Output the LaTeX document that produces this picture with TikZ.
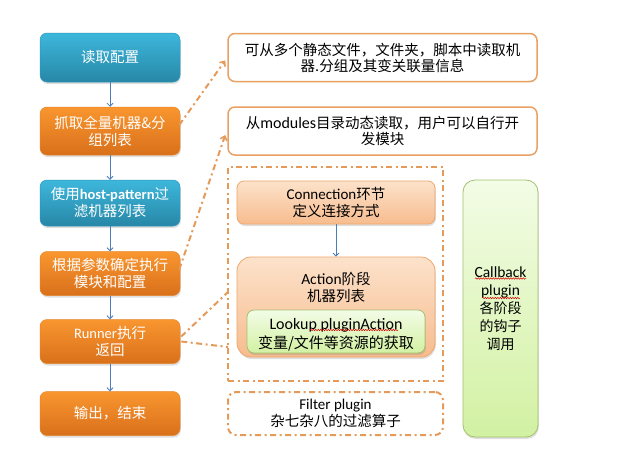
\documentclass[tikz,border=0pt]{standalone}
\usepackage{fontspec}
\setmainfont{Noto Sans CJK SC}
\newfontfamily\lat{Carlito}
\usetikzlibrary{arrows.meta,shadows,decorations.pathmorphing,calc}
\definecolor{bluetop}{HTML}{3DB7DC}
\definecolor{bluebot}{HTML}{2787A7}
\definecolor{blueedge}{HTML}{2E9ABB}
\definecolor{orgtop}{HTML}{F9962F}
\definecolor{orgbot}{HTML}{D9701B}
\definecolor{orgedge}{HTML}{E5862A}
\definecolor{noteedge}{HTML}{E9A064}
\definecolor{dashc}{HTML}{E69A5A}
\definecolor{peachtop}{HTML}{FCE2CB}
\definecolor{peachbot}{HTML}{F7BC8E}
\definecolor{peachedge}{HTML}{EFA76A}
\definecolor{greentop}{HTML}{F3FCE6}
\definecolor{greenbot}{HTML}{D2F1A2}
\definecolor{greenedge}{HTML}{A3C06E}
\definecolor{arrowblue}{HTML}{4A7EBB}
\begin{document}
\begin{tikzpicture}[x=1pt,y=-1pt,
  base/.style={rounded corners=7pt, align=center, inner sep=2pt,
    font=\fontsize{14.5}{17}\selectfont},
  shad/.style={drop shadow={opacity=0.25, shadow xshift=0.8pt, shadow yshift=-2pt}},
  bluebox/.style={base, shad, minimum width=140pt, top color=bluetop, bottom color=bluebot,
    draw=blueedge, line width=0.5pt, text=white},
  orgbox/.style={base, shad, minimum width=140pt, top color=orgtop, bottom color=orgbot,
    draw=orgedge, line width=0.5pt, text=white},
  notebox/.style={base, draw=noteedge, line width=1.5pt, fill=white,
    minimum width=309pt, minimum height=48pt, font=\fontsize{14.5}{16}\selectfont},
  dashdot/.style={draw=dashc, line width=2pt, dash pattern=on 6pt off 3.5pt on 2pt off 3.5pt},
  peachbox/.style={base, shad, top color=peachtop, bottom color=peachbot, draw=peachedge,
    line width=0.8pt, minimum width=198pt},
  greenbox/.style={base, shad, top color=greentop, bottom color=greenbot, draw=greenedge,
    line width=0.8pt},
  barrow/.style={draw=arrowblue, line width=0.8pt, -{Straight Barb[length=3pt,width=6pt]}},
  conn/.style={dashdot, line width=2pt},
  connarrow/.style={conn, -{Straight Barb[length=4pt,width=7pt,line width=1.5pt]}},
  squig/.style={draw=red!85!black, line width=0.5pt, decorate,
    decoration={snake, amplitude=0.7pt, segment length=2.5pt}}
]
\useasboundingbox[fill=white] (0,0) rectangle (629,471);

% left column
\node[bluebox, minimum height=49pt] (b1) at (110,57.5) {读取配置};
\node[orgbox, minimum height=48pt] (b2) at (110,131) {抓取全量机器\&分\\组列表};
\node[bluebox, minimum height=46pt] (b3) at (110,203) {使用{\lat\bfseries host-pattern}过\\滤机器列表};
\node[orgbox, minimum height=44pt] (b4) at (110,273.5) {根据参数确定执行\\模块和配置};
\node[orgbox, minimum height=44pt] (b5) at (110,341.5) {{\lat Runner}执行\\返回};
\node[orgbox, minimum height=44pt] (b6) at (110,413.5) {输出，结束};

\draw[barrow] (b1) -- (b2);
\draw[barrow] (b2) -- (b3);
\draw[barrow] (b3) -- (b4);
\draw[barrow] (b4) -- (b5);
\draw[barrow] (b5) -- (b6);

% notes
\node[notebox] (na) at (382.5,57.5) {可从多个静态文件，文件夹，脚本中读取机\\器.分组及其变关联量信息};
\node[notebox] (nb) at (382.5,131) {从{\lat\fontsize{16}{16}\selectfont modules}目录动态读取，用户可以自行开\\发模块};

% group
\node[dashdot, minimum width=215pt, minimum height=214pt, inner sep=0pt] (grp) at (335.5,274) {};
\node[peachbox, minimum height=43pt] (con) at (336,202.5) {{\lat\fontsize{15}{17}\selectfont Connection}环节\\定义连接方式};
\node[peachbox, rounded corners=14pt, minimum height=100pt] (act) at (336,307) {};
\node[align=center, font=\fontsize{14.5}{17}\selectfont] (actt) at (336,287) {{\lat\fontsize{15.5}{17}\selectfont Action}阶段\\机器列表};
\node[greenbox, minimum width=178pt, minimum height=43pt] (look) at (336,331.5) {};
\node[align=center, font=\fontsize{15}{19}\selectfont] (looktxt) at (336,335) {{\lat\fontsize{16}{19}\selectfont Lookup pluginAction}\\变量/文件等资源的获取};
\draw[barrow] (con) -- (act);

\node[base, dashdot, rounded corners=8pt, minimum width=215pt, minimum height=43pt] (filt) at (335.5,413.5) {{\lat\fontsize{15}{17}\selectfont Filter plugin}\\杂七杂八的过滤算子};

\node[greenbox, rounded corners=12pt, minimum width=75pt, minimum height=257pt,
  font=\fontsize{14}{18}\selectfont] (cb) at (500.5,308.5)
  {{\lat\fontsize{15.5}{18}\selectfont Callback}\\{\lat\fontsize{15.5}{18}\selectfont plugin}\\各阶段\\的钩子\\调用};

% connectors
\coordinate (g1) at (228,292);
\coordinate (g2) at (228,347);
\draw[connarrow] ($(b2.east)+(-1,-6)$) -- ($(na.west)+(-2,3)$);
\draw[connarrow] ($(b4.east)+(-1,-4)$) -- ($(nb.west)+(-2,4)$);
\draw[conn] ($(b5.east)+(1,-5)$) -- (g1);
\draw[conn] ($(b5.east)+(1,0)$) -- (g2);

% spell-check underlines
\draw[squig] (310,330) -- (398,330);
\draw[squig] (475,278.5) -- (526,278.5);
\draw[squig] (482,298) -- (520,298);
\end{tikzpicture}
\end{document}
